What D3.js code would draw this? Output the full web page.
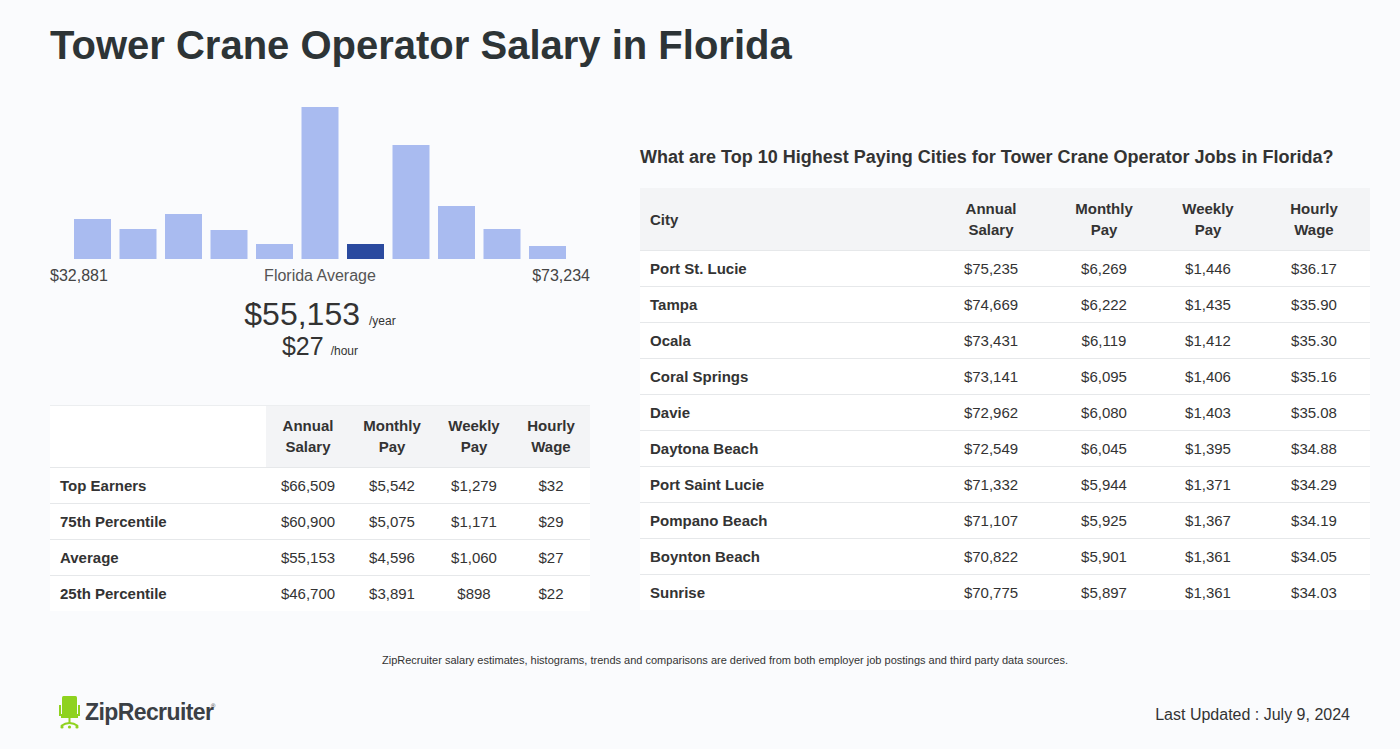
<!DOCTYPE html>
<html><head><meta charset="utf-8">
<script src="https://cdn.jsdelivr.net/npm/d3@7"></script>
<style>
html,body{margin:0;padding:0;background:#fafbfd;}
svg{display:block;font-family:"Liberation Sans",Arial,Helvetica,sans-serif;}
</style></head>
<body><svg id="c" width="1400" height="749"></svg>
<script>
// ---- data ----
const histBins = ["b1","b2","b3","b4","b5","b6","b7","b8","b9","b10","b11"];
const histCounts = [40,30,45,29,15,152,15,114,53,30,13];
const avgBinIndex = 6;
const rangeLabels = ["$32,881","Florida Average","$73,234"];
const avgYear = "$55,153", avgHour = "$27";

const pctHeaders = [["Annual","Salary"],["Monthly","Pay"],["Weekly","Pay"],["Hourly","Wage"]];
const pctRows = ["Top Earners","75th Percentile","Average","25th Percentile"];
const pctAnnual = ["$66,509","$60,900","$55,153","$46,700"];
const pctMonthly = ["$5,542","$5,075","$4,596","$3,891"];
const pctWeekly = ["$1,279","$1,171","$1,060","$898"];
const pctHourly = ["$32","$29","$27","$22"];

const cities = ["Port St. Lucie","Tampa","Ocala","Coral Springs","Davie","Daytona Beach","Port Saint Lucie","Pompano Beach","Boynton Beach","Sunrise"];
const cityAnnual = ["$75,235","$74,669","$73,431","$73,141","$72,962","$72,549","$71,332","$71,107","$70,822","$70,775"];
const cityMonthly = ["$6,269","$6,222","$6,119","$6,095","$6,080","$6,045","$5,944","$5,925","$5,901","$5,897"];
const cityWeekly = ["$1,446","$1,435","$1,412","$1,406","$1,403","$1,395","$1,371","$1,367","$1,361","$1,361"];
const cityHourly = ["$36.17","$35.90","$35.30","$35.16","$35.08","$34.88","$34.29","$34.19","$34.05","$34.03"];

const svg = d3.select("#c");

// title
svg.append("text").attr("x",50).attr("y",59).attr("font-size",40).attr("font-weight","bold")
  .attr("fill","#2d3436").text("Tower Crane Operator Salary in Florida");

// histogram
const x = d3.scaleBand().domain(histBins).range([69.75,570.25]).paddingInner(0.187).paddingOuter(0.0935);
const y = d3.scaleLinear().domain([0,152]).range([259,107]);
svg.append("g").selectAll("rect").data(histCounts).join("rect")
  .attr("x",(d,i)=>x(histBins[i])).attr("width",x.bandwidth())
  .attr("y",d=>y(d)).attr("height",d=>y(0)-y(d))
  .attr("fill",(d,i)=>i===avgBinIndex?"#2a4a9f":"#a9bbf0");

svg.append("text").attr("x",50).attr("y",281).attr("font-size",16).attr("fill","#444").text(rangeLabels[0]);
svg.append("text").attr("x",320).attr("y",281).attr("font-size",16).attr("fill","#555").attr("text-anchor","middle").text(rangeLabels[1]);
svg.append("text").attr("x",590).attr("y",281).attr("font-size",16).attr("fill","#444").attr("text-anchor","end").text(rangeLabels[2]);

const big = svg.append("text").attr("x",320).attr("y",325).attr("text-anchor","middle").attr("fill","#333");
big.append("tspan").attr("font-size",32).text(avgYear);
big.append("tspan").attr("font-size",12).attr("dx",9).text("/year");
const sm = svg.append("text").attr("x",320).attr("y",355).attr("text-anchor","middle").attr("fill","#333");
sm.append("tspan").attr("font-size",25).text(avgHour);
sm.append("tspan").attr("font-size",12).attr("dx",7).text("/hour");

// left table
(function(){
  const x0=50,x1=590,hy=405,hh=62,rh=36;
  const cols=[308,392,474,551];
  svg.append("rect").attr("x",x0).attr("y",hy).attr("width",216).attr("height",hh).attr("fill","#fff");
  svg.append("rect").attr("x",266).attr("y",hy).attr("width",x1-266).attr("height",hh).attr("fill","#f3f4f6");
  svg.append("line").attr("x1",x0).attr("x2",x1).attr("y1",hy+0.5).attr("y2",hy+0.5).attr("stroke","#eceef0");
  pctHeaders.forEach((h,i)=>{
    h.forEach((s,j)=>svg.append("text").attr("x",cols[i]).attr("y",hy+26+j*21).attr("text-anchor","middle")
      .attr("font-size",15).attr("font-weight","bold").attr("fill","#333").text(s));
  });
  const vals=[pctAnnual,pctMonthly,pctWeekly,pctHourly];
  pctRows.forEach((r,k)=>{
    const ry=hy+hh+k*rh;
    svg.append("rect").attr("x",x0).attr("y",ry).attr("width",x1-x0).attr("height",rh).attr("fill","#fff");
    svg.append("line").attr("x1",x0).attr("x2",x1).attr("y1",ry+0.5).attr("y2",ry+0.5).attr("stroke","#e6e8ea");
    svg.append("text").attr("x",60).attr("y",ry+24).attr("font-size",15).attr("font-weight","bold").attr("fill","#333").text(r);
    vals.forEach((v,i)=>svg.append("text").attr("x",cols[i]).attr("y",ry+24).attr("text-anchor","middle")
      .attr("font-size",15).attr("fill","#333").text(v[k]));
  });
})();

// right side
svg.append("text").attr("x",640).attr("y",163).attr("font-size",18).attr("font-weight","bold").attr("fill","#333")
  .text("What are Top 10 Highest Paying Cities for Tower Crane Operator Jobs in Florida?");
(function(){
  const x0=640,x1=1370,hy=188,hh=62,rh=36;
  const cols=[991,1104,1208,1314];
  svg.append("rect").attr("x",x0).attr("y",hy).attr("width",x1-x0).attr("height",hh).attr("fill","#f3f4f6");
  svg.append("text").attr("x",650).attr("y",hy+37).attr("font-size",15).attr("font-weight","bold").attr("fill","#333").text("City");
  pctHeaders.forEach((h,i)=>{
    h.forEach((s,j)=>svg.append("text").attr("x",cols[i]).attr("y",hy+26+j*21).attr("text-anchor","middle")
      .attr("font-size",15).attr("font-weight","bold").attr("fill","#333").text(s));
  });
  const vals=[cityAnnual,cityMonthly,cityWeekly,cityHourly];
  cities.forEach((c,k)=>{
    const ry=hy+hh+k*rh;
    svg.append("rect").attr("x",x0).attr("y",ry).attr("width",x1-x0).attr("height",rh).attr("fill","#fff");
    svg.append("line").attr("x1",x0).attr("x2",x1).attr("y1",ry+0.5).attr("y2",ry+0.5).attr("stroke","#e6e8ea");
    svg.append("text").attr("x",650).attr("y",ry+24).attr("font-size",15).attr("font-weight","bold").attr("fill","#333").text(c);
    vals.forEach((v,i)=>svg.append("text").attr("x",cols[i]).attr("y",ry+24).attr("text-anchor","middle")
      .attr("font-size",15).attr("fill","#333").text(v[k]));
  });
})();

// footer
svg.append("text").attr("x",725).attr("y",664).attr("text-anchor","middle").attr("font-size",11).attr("fill","#333")
  .text("ZipRecruiter salary estimates, histograms, trends and comparisons are derived from both employer job postings and third party data sources.");
svg.append("text").attr("x",1350).attr("y",720).attr("text-anchor","end").attr("font-size",16).attr("fill","#333")
  .text("Last Updated : July 9, 2024");

// logo
const lg = svg.append("g").attr("transform","translate(59,696)");
const green="#8fd21f";
lg.append("rect").attr("x",3).attr("y",0).attr("width",15).attr("height",19).attr("rx",1.5).attr("fill",green);
lg.append("path").attr("d","M1,9 L1,19 L20,19 L20,9").attr("fill","none").attr("stroke",green).attr("stroke-width",2);
lg.append("rect").attr("x",2).attr("y",18).attr("width",17).attr("height",4).attr("fill",green);
lg.append("rect").attr("x",9.5).attr("y",21).attr("width",2).attr("height",6).attr("fill",green);
lg.append("path").attr("d","M2,30 Q10.5,24 19,30").attr("fill","none").attr("stroke",green).attr("stroke-width",2);
lg.append("circle").attr("cx",3).attr("cy",31).attr("r",1.6).attr("fill",green);
lg.append("circle").attr("cx",18).attr("cy",31).attr("r",1.6).attr("fill",green);
lg.append("circle").attr("cx",10.5).attr("cy",31).attr("r",1.6).attr("fill",green);
lg.append("text").attr("x",26).attr("y",24).attr("font-size",23).attr("font-weight","bold").attr("fill","#3b4045")
  .attr("letter-spacing",-0.6).text("ZipRecruiter");
lg.append("text").attr("x",152).attr("y",12).attr("font-size",6).attr("fill","#3b4045").text("®");
</script></body></html>
